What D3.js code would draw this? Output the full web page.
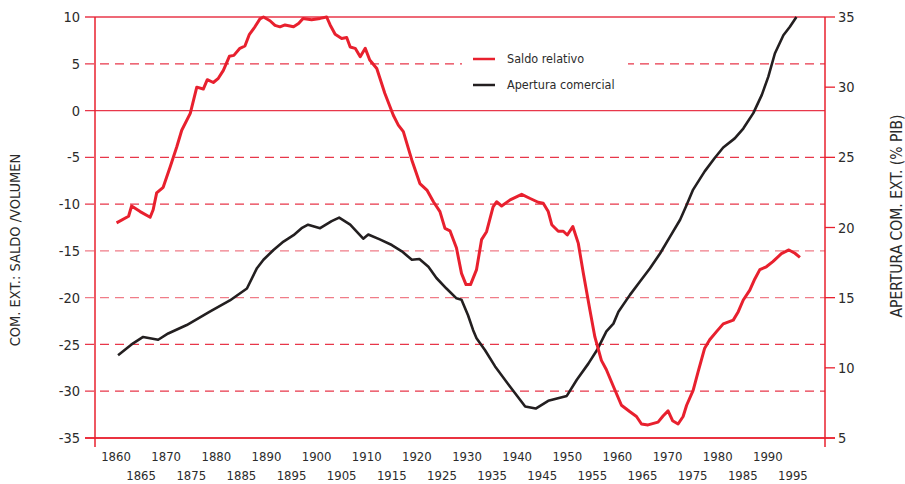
<!DOCTYPE html>
<html>
<head>
<meta charset="utf-8">
<script src="https://cdn.jsdelivr.net/npm/d3@7"></script>
<style>
  body { margin: 0; background: #fff; }
  text { font-family: "Liberation Sans Narrow", "DejaVu Sans Condensed", sans-serif; fill: #2b2b2b; }
</style>
</head>
<body>
<div id="chart"></div>
<script>
// Saldo relativo (eje izquierdo)
const saldoYears = [1860.1,1862.5,1863.1,1864.8,1866.8,1867.4,1868.1,1869.4,1870.8,1872.1,1873.1,1874.8,1876.1,1877.4,1878.2,1879.4,1880.4,1881.4,1882.6,1883.5,1884.7,1885.7,1886.6,1887.7,1888.7,1889.4,1890.7,1891.7,1892.7,1893.7,1895.4,1896.4,1897.3,1899,1900.7,1902,1902.7,1903.7,1905,1906,1906.7,1907.7,1908.7,1909.7,1910.6,1912,1913.6,1915.3,1916.3,1917.3,1919,1920.6,1922,1923.3,1924.6,1925.6,1926.6,1927.9,1928.9,1929.8,1930.7,1931.9,1932.9,1933.9,1935.2,1935.9,1936.9,1938.6,1940.9,1942.6,1944.2,1945.2,1946.2,1946.9,1948.2,1949.2,1950,1951.1,1952.2,1953.2,1954.5,1955.5,1956.8,1957.8,1959.2,1960.8,1962.5,1963.8,1964.8,1966.1,1968.1,1969.1,1970.1,1971,1972.1,1973.1,1973.8,1975.1,1976.1,1977.4,1978.4,1979.8,1981.1,1983.1,1984.1,1985.1,1986.4,1987.4,1988.4,1989.7,1991,1992.7,1994.2,1995.4,1996.4];
const saldoValues = [-12.0,-11.3,-10.2,-10.8,-11.4,-10.6,-8.8,-8.2,-6.0,-3.9,-2.1,-0.3,2.5,2.3,3.3,3.0,3.45,4.3,5.8,5.9,6.65,6.9,8.15,8.95,9.8,10,9.6,9.1,8.95,9.15,8.95,9.3,9.85,9.7,9.85,10,9.15,8.15,7.7,7.8,6.8,6.65,5.75,6.65,5.4,4.5,1.85,-0.5,-1.55,-2.25,-5.3,-7.8,-8.5,-9.75,-10.8,-12.6,-12.85,-14.7,-17.4,-18.6,-18.6,-17.0,-13.8,-12.95,-10.3,-9.75,-10.2,-9.55,-8.95,-9.4,-9.8,-9.9,-10.8,-12.2,-12.9,-12.9,-13.3,-12.4,-14.2,-17.4,-21.3,-24.2,-26.7,-27.7,-29.5,-31.5,-32.2,-32.7,-33.5,-33.6,-33.3,-32.65,-32.1,-33.15,-33.5,-32.7,-31.5,-29.9,-27.9,-25.4,-24.5,-23.6,-22.8,-22.4,-21.5,-20.25,-19.2,-18.0,-17.0,-16.7,-16.15,-15.3,-14.9,-15.25,-15.7];

// Apertura comercial (eje derecho, % PIB)
const aperturaYears = [1860.4,1863.4,1865.4,1868.4,1870.4,1874.1,1878.7,1882.7,1886.1,1888.1,1889.4,1891.4,1893.4,1895.4,1897,1898.3,1900.7,1903,1904.5,1906.7,1909.3,1910.3,1912.6,1915,1917,1919,1920.5,1922.3,1923.9,1925.9,1927.9,1928.9,1930.2,1931.2,1931.9,1933.6,1935.6,1938.6,1941.6,1943.7,1946.2,1949.9,1951.9,1954.2,1955.9,1957.8,1959.2,1960.2,1962.5,1964.5,1966.5,1968.5,1970.5,1972.5,1973.8,1975.1,1977.4,1979.4,1981.1,1983.4,1985.1,1987.1,1988.8,1990.1,1991.4,1993.1,1994.4,1995.7];
const aperturaValues = [10.9,11.75,12.2,12.0,12.45,13.05,14.0,14.8,15.65,17.1,17.7,18.4,19.0,19.45,19.95,20.2,19.95,20.45,20.7,20.2,19.2,19.5,19.15,18.75,18.3,17.7,17.75,17.2,16.4,15.65,14.95,14.85,13.75,12.7,12.1,11.25,10.1,8.65,7.25,7.1,7.65,8.0,9.15,10.3,11.25,12.6,13.15,14.0,15.2,16.15,17.1,18.15,19.35,20.55,21.6,22.7,24.0,24.95,25.7,26.35,27.05,28.15,29.45,30.75,32.4,33.7,34.3,35];

const leftTicks = [10,5,0,-5,-10,-15,-20,-25,-30,-35];
const rightTicks = [35,30,25,20,15,10,5];
const yearTicks = d3.range(1860, 1996, 5);
const seriesNames = ['Saldo relativo', 'Apertura comercial'];

const w = 905, h = 484;
const pLeft = 95, pRight = 825, pTop = 17, pBottom = 438;
const red = '#e8202e', black = '#231f20';

const svg = d3.select('#chart').append('svg')
  .attr('width', w).attr('height', h);

const x = d3.scaleLinear().domain([1855.8, 2001.4]).range([pLeft, pRight]);
const yL = d3.scaleLinear().domain([-35, 10]).range([pBottom, pTop]);
const yR = d3.scaleLinear().domain([5, 35]).range([pBottom, pTop]);

// lineas de referencia
leftTicks.forEach(t => {
  const solid = (t === 10 || t === 0 || t === -35);
  const light = (t === -15 || t === -20);
  svg.append('line')
    .attr('x1', pLeft - 10).attr('x2', pRight)
    .attr('y1', yL(t)).attr('y2', yL(t))
    .attr('stroke', light ? '#f07c88' : '#e8374a')
    .attr('stroke-width', solid ? 1.3 : 1.2)
    .attr('stroke-dasharray', solid ? null : '9,6');
});

// ejes verticales
svg.append('line').attr('x1', pLeft).attr('x2', pLeft).attr('y1', pTop).attr('y2', pBottom + 9)
  .attr('stroke', red).attr('stroke-width', 1.5);
svg.append('line').attr('x1', pRight).attr('x2', pRight).attr('y1', pTop).attr('y2', pBottom + 9)
  .attr('stroke', red).attr('stroke-width', 1.5);
svg.append('line').attr('x1', pLeft - 10).attr('x2', pRight + 10).attr('y1', pBottom).attr('y2', pBottom)
  .attr('stroke', red).attr('stroke-width', 1.5);

// etiquetas eje izquierdo
svg.selectAll('.lt').data(leftTicks).enter().append('text')
  .attr('x', pLeft - 15).attr('y', d => yL(d)).attr('dy', '0.35em')
  .attr('text-anchor', 'end').attr('font-size', 14.5)
  .text(d => d);

// eje derecho
const rAxis = svg.append('g');
rightTicks.forEach(t => {
  rAxis.append('line').attr('x1', pRight).attr('x2', pRight + 10)
    .attr('y1', yR(t)).attr('y2', yR(t)).attr('stroke', red).attr('stroke-width', 1.3);
  rAxis.append('text').attr('x', pRight + 13).attr('y', yR(t)).attr('dy', '0.35em')
    .attr('font-size', 14.5).text(t);
});

// años en dos filas
svg.selectAll('.yr').data(yearTicks).enter().append('text')
  .attr('x', d => x(d))
  .attr('y', (d, i) => i % 2 === 0 ? 461 : 480)
  .attr('text-anchor', 'middle').attr('font-size', 13)
  .text(d => d);

// titulos de ejes
svg.append('text')
  .attr('transform', 'translate(20,250) rotate(-90)')
  .attr('text-anchor', 'middle').attr('font-size', 14.5)
  .text('COM. EXT.: SALDO /VOLUMEN');
svg.append('text')
  .attr('transform', 'translate(902,216) rotate(-90)')
  .attr('text-anchor', 'middle').attr('font-size', 15.5)
  .text('APERTURA COM. EXT. (% PIB)');

// leyenda
svg.append('rect').attr('x', 462).attr('y', 38).attr('width', 166).attr('height', 62).attr('fill', '#fff');
const legColors = [red, black];
seriesNames.forEach((n, i) => {
  const ly = 59 + i * 26;
  svg.append('line').attr('x1', 473).attr('x2', 495).attr('y1', ly).attr('y2', ly)
    .attr('stroke', legColors[i]).attr('stroke-width', 2.5);
  svg.append('text').attr('x', 507).attr('y', ly).attr('dy', '0.35em')
    .attr('font-size', 12.5).text(n);
});

// series
const saldo = saldoYears.map((yr, i) => [yr, saldoValues[i]]);
const apertura = aperturaYears.map((yr, i) => [yr, aperturaValues[i]]);

svg.append('path').datum(apertura)
  .attr('fill', 'none').attr('stroke', black).attr('stroke-width', 2.6)
  .attr('stroke-linejoin', 'round')
  .attr('d', d3.line().x(d => x(d[0])).y(d => yR(d[1])));

svg.append('path').datum(saldo)
  .attr('fill', 'none').attr('stroke', red).attr('stroke-width', 3)
  .attr('stroke-linejoin', 'round')
  .attr('d', d3.line().x(d => x(d[0])).y(d => yL(d[1])));
</script>
</body>
</html>
